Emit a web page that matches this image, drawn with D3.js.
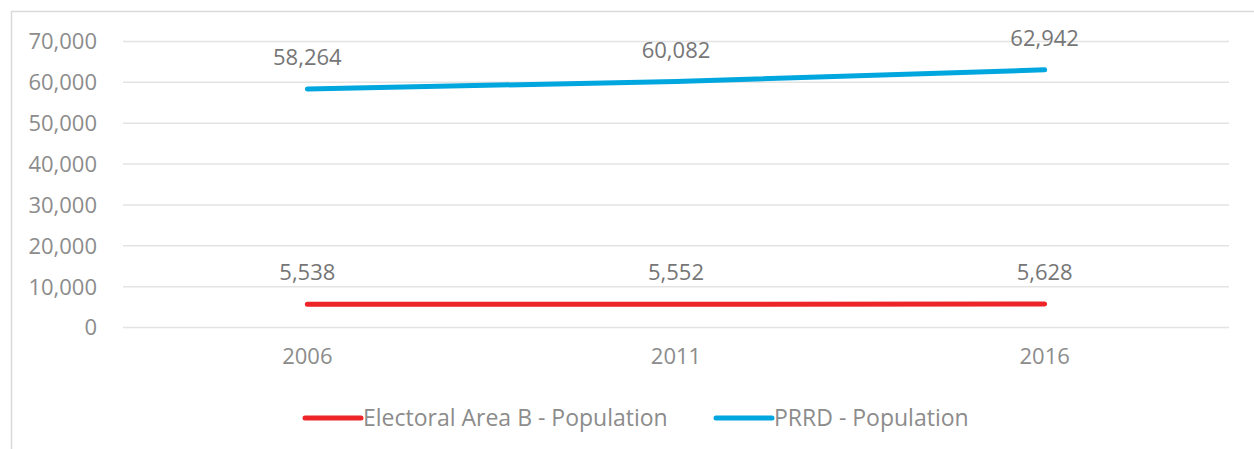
<!DOCTYPE html>
<html>
<head>
<meta charset="utf-8">
<script src="https://cdn.jsdelivr.net/npm/d3@7"></script>
<style>
	body{margin:0;background:#fff;}
	svg{display:block;font-family:"Open Sans",sans-serif;}
</style>
</head>
<body>
<div id="chart"></div>
<script>
// data
const years = ['2006','2011','2016'];
const areaB = [5538, 5552, 5628];
const prrd = [58264, 60082, 62942];
const yTicks = [0,10000,20000,30000,40000,50000,60000,70000];
const seriesNames = ['Electoral Area B - Population','PRRD - Population'];
const seriesColors = ['#ed2428','#00a6de'];

const width = 1254, height = 449;
const margin = {t:41,r:25,b:122,l:123};
const w = width - margin.l - margin.r;
const h = height - margin.t - margin.b;

const svg = d3.select('#chart').append('svg')
	.attr('width',width)
	.attr('height',height);

//frame, only left and top edge are visible
svg.append('rect')
	.attr('x',11.5).attr('y',11.5)
	.attr('width',1300).attr('height',500)
	.style('fill','none')
	.style('stroke','#d9d9d9')
	.style('stroke-width',1.5);

const plot = svg.append('g')
	.attr('transform',`translate(${margin.l},${margin.t})`);

const scaleX = d3.scaleBand().domain(years).range([0,w]).padding(0);
const scaleY = d3.scaleLinear().domain([0,70000]).range([h,0]);

//gridlines + y labels
const axisY = d3.axisLeft(scaleY)
	.tickValues(yTicks)
	.tickSize(-w)
	.tickPadding(26)
	.tickFormat(d3.format(','));
const gY = plot.append('g').attr('class','axis-y').call(axisY)
	.attr('font-family',null);
gY.select('.domain').remove();
gY.selectAll('.tick line').style('stroke','#e3e3e3').style('stroke-width',1.5);
gY.selectAll('.tick text')
	.style('font-size','22px')
	.style('fill','#8c8c8c')
	.attr('dy','0.36em');

//x labels
const axisX = d3.axisBottom(scaleX).tickSize(0).tickPadding(20);
const gX = plot.append('g').attr('transform',`translate(0,${h})`).call(axisX)
	.attr('font-family',null);
gX.select('.domain').remove();
gX.selectAll('.tick text')
	.style('font-size','22px')
	.style('fill','#8c8c8c')
	.attr('dy','0.75em');

//lines
const line = d3.line()
	.x((d,i) => scaleX(years[i]) + scaleX.bandwidth()/2)
	.y(d => scaleY(d));

[areaB, prrd].forEach((series,k) => {
	plot.append('path')
		.datum(series)
		.attr('d',line)
		.style('fill','none')
		.style('stroke',seriesColors[k])
		.style('stroke-width',5)
		.style('stroke-linecap','round')
		.style('stroke-linejoin','round');

	plot.selectAll('.lbl' + k)
		.data(series)
		.enter().append('text')
		.attr('class','lbl' + k)
		.attr('x',(d,i) => scaleX(years[i]) + scaleX.bandwidth()/2)
		.attr('y',d => scaleY(d) - 24)
		.attr('text-anchor','middle')
		.style('font-size','22px')
		.style('fill','#767676')
		.text(d => d3.format(',')(d));
});

//legend
const legendX = [305, 716];
const legend = svg.selectAll('.legend')
	.data(seriesNames)
	.enter().append('g')
	.attr('class','legend')
	.attr('transform',(d,i) => `translate(${legendX[i]},418)`);
legend.append('line')
	.attr('x1',0).attr('x2',56)
	.attr('y1',0).attr('y2',0)
	.style('stroke',(d,i) => seriesColors[i])
	.style('stroke-width',5)
	.style('stroke-linecap','round');
legend.append('text')
	.attr('x',58)
	.attr('dy','0.36em')
	.style('font-size','23px')
	.style('fill','#8c8c8c')
	.text(d => d);
</script>
</body>
</html>
